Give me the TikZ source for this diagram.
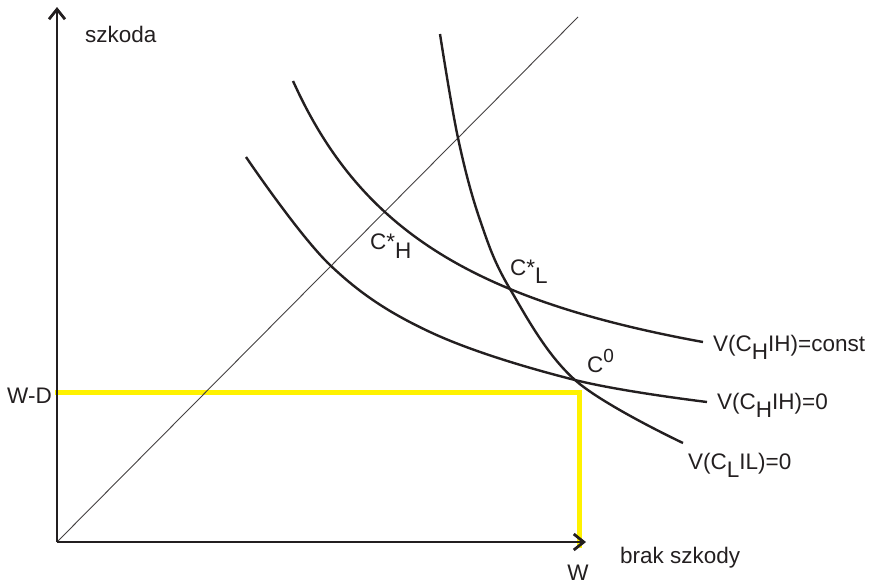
\documentclass[tikz,border=0pt]{standalone}
\usepackage{fontspec}
\setmainfont{Liberation Sans}
\usetikzlibrary{arrows.meta}
\definecolor{ylw}{RGB}{255,242,0}
\definecolor{ink}{RGB}{35,31,32}
\begin{document}
\begin{tikzpicture}[x=1pt,y=-1pt,
  curve/.style={line width=2.4pt, ink},
  axis/.style={line width=2.8pt, ink, -{Straight Barb[length=10pt,width=16pt]}},
  guide/.style={line width=5pt, ylw},
  diag/.style={line width=0.9pt, ink!85},
  lbl/.style={inner sep=0pt, font=\fontsize{22.5pt}{26pt}\selectfont, text=ink}]
\useasboundingbox (0,0) rectangle (871,584);
% coordinates
\coordinate (O) at (57,542);
\coordinate (ytop) at (57,7);
\coordinate (xend) at (586,542);
\coordinate (dend) at (578,17);
\coordinate (wd0) at (55,392);
\coordinate (corner) at (579,392);
\coordinate (wbot) at (579,548);
% yellow guide lines
\draw[guide, line join=miter] (wd0) -- (corner) -- (wbot);
% diagonal
\draw[diag] (O) -- (dend);
% axes
\draw[axis] (O) -- (ytop);
\draw[axis] (O) -- (xend);
% curves
\draw[curve] plot[smooth, tension=0.6] coordinates {(246,157) (330,265) (430,332) (575,380) (707,402)};
\draw[curve] plot[smooth, domain=293:703, samples=60] (\x, {446.8 - 602.14/((\x-128.4)/100)});
\draw[curve] plot[smooth, tension=0.6] coordinates {(440,34) (458,138) (480,220) (510,289) (575,380) (683,443)};
% labels
\node[lbl, anchor=base west] (szk) at (85,42) {szkoda};
\node[lbl, anchor=base east] (wd) at (52,403) {W-D};
\node[lbl, anchor=base] (w) at (578,580) {W};
\node[lbl, anchor=base west] (brak) at (620,563) {brak szkody};
\node[lbl, anchor=base west] (ch) at (370,249) {C*\raisebox{-9pt}{H}};
\node[lbl, anchor=base west] (cl) at (510,275) {C*\raisebox{-8pt}{L}};
\node[lbl, anchor=base west] (c0) at (587,372) {C\raisebox{10pt}{\fontsize{19pt}{20pt}\selectfont 0}};
\node[lbl, anchor=base west] (v1) at (713,351) {V(C\raisebox{-8pt}{H}IH)=const};
\node[lbl, anchor=base west] (v2) at (717,409) {V(C\raisebox{-8pt}{H}IH)=0};
\node[lbl, anchor=base west] (v3) at (688,469) {V(C\raisebox{-8pt}{L}IL)=0};
\end{tikzpicture}
\end{document}
